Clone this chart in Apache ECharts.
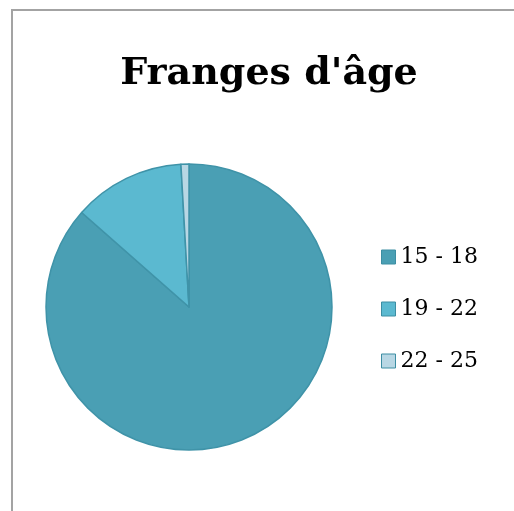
<!DOCTYPE html>
<html>
<head>
<meta charset="utf-8">
<script src="https://cdn.jsdelivr.net/npm/echarts@6/dist/echarts.min.js"></script>
<style>
html,body{margin:0;padding:0;background:#fff;}
#main{width:514px;height:511px;}
</style>
</head>
<body>
<div id="main"></div>
<script>
var categories = ['15 - 18', '19 - 22', '22 - 25'];
var values = [96, 14, 1];
var colors = ['#4a9fb4', '#5bb9d0', '#b8d7e4'];

var myChart = echarts.init(document.getElementById('main'));
var data = [];
for (var i = 0; i < categories.length; i++) {
    data.push({ name: categories[i], value: values[i], itemStyle: { color: colors[i] } });
}
var option = {
    animation: false,
    title: {
        text: "Franges d'âge",
        left: 264,
        top: 50,
        textAlign: 'center',
        textStyle: { fontFamily: 'DejaVu Serif', fontWeight: 'bold', fontSize: 38, color: '#000' }
    },
    legend: {
        orient: 'vertical',
        left: 381,
        top: 246,
        padding: 0,
        itemWidth: 14,
        itemHeight: 14,
        itemGap: 30,
        itemTextGap: 8,
        icon: 'rect',
        data: categories,
        itemStyle: { borderColor: '#3d8ea3', borderWidth: 1 },
        textStyle: { fontFamily: 'DejaVu Serif', fontSize: 22, color: '#000' }
    },
    graphic: [{
        type: 'rect',
        shape: { x: 12, y: 10, width: 620, height: 620 },
        style: { fill: 'none', stroke: '#a3a3a3', lineWidth: 2 }
    }],
    series: [{
        type: 'pie',
        center: [189, 307],
        radius: 143,
        startAngle: 90,
        clockwise: true,
        label: { show: false },
        labelLine: { show: false },
        itemStyle: { borderColor: '#3f93a8', borderWidth: 1.5 },
        data: data
    }]
};
myChart.setOption(option);
</script>
</body>
</html>
